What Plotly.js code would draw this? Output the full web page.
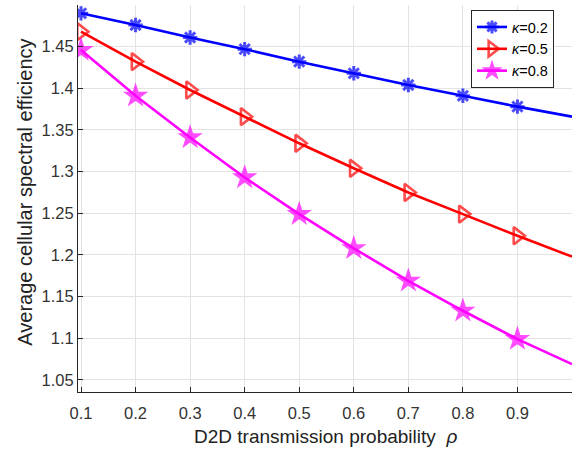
<!DOCTYPE html>
<html>
<head>
<meta charset="utf-8">
<script src="https://cdn.plot.ly/plotly-3.0.1.min.js"></script>
<style>html,body{margin:0;padding:0;background:#fff;}#chart{width:579px;height:449px;}</style>
</head>
<body>
<div id="chart"></div>
<script>
var rho = [0.1, 0.2, 0.3, 0.4, 0.5, 0.6, 0.7, 0.8, 0.9, 1.0];
var kappa02 = [1.490, 1.476, 1.461, 1.447, 1.432, 1.418, 1.404, 1.391, 1.378, 1.366];
var kappa05 = [1.468, 1.432, 1.398, 1.366, 1.334, 1.304, 1.275, 1.249, 1.223, 1.198];
var kappa08 = [1.446, 1.391, 1.341, 1.293, 1.249, 1.208, 1.169, 1.133, 1.099, 1.069];
var names = ['<i>κ</i>=0.2', '<i>κ</i>=0.5', '<i>κ</i>=0.8'];
var xTicks = [0.1, 0.2, 0.3, 0.4, 0.5, 0.6, 0.7, 0.8, 0.9];
var yTicks = [1.05, 1.1, 1.15, 1.2, 1.25, 1.3, 1.35, 1.4, 1.45];
var xTitle = 'D2D transmission probability  <i>ρ</i>';
var yTitle = 'Average cellular spectral efficiency';

function sizes(s, n){ var a = []; for (var i = 0; i < n; i++) a.push(i < n - 1 ? s : 0); return a; }

var traces = [
  {x: rho, y: kappa02, name: names[0], mode: 'lines+markers',
   line: {color: '#0000ff', width: 2.6},
   marker: {symbol: 'asterisk-open', size: sizes(12, rho.length), color: '#0000ff', line: {color: '#0000ff', width: 3}}},
  {x: rho, y: kappa05, name: names[1], mode: 'lines+markers',
   line: {color: '#ff0000', width: 2.6},
   marker: {symbol: 'triangle-right-open', size: sizes(15, rho.length), color: '#ff0000', line: {color: '#ff0000', width: 2.6}}},
  {x: rho, y: kappa08, name: names[2], mode: 'lines+markers',
   line: {color: '#ff00ff', width: 2.6},
   marker: {symbol: 'star', size: sizes(19, rho.length), color: '#ff00ff', line: {color: '#ff00ff', width: 0}}}
];

var layout = {
  width: 579, height: 449,
  margin: {l: 78, r: 7, t: 5, b: 57},
  paper_bgcolor: '#ffffff', plot_bgcolor: '#ffffff',
  font: {family: 'Liberation Sans, Arial, sans-serif', size: 16, color: '#262626'},
  showlegend: true,
  legend: {x: 0.9636, y: 0.987, xanchor: 'right', yanchor: 'top',
           bgcolor: '#ffffff', bordercolor: '#262626', borderwidth: 1,
           font: {size: 14.5, color: '#000'}, itemwidth: 30, tracegroupgap: 0},
  xaxis: {range: [0.0945, 1.0], tickvals: xTicks, ticktext: xTicks.map(String),
          showgrid: true, gridcolor: '#e3e3e3', gridwidth: 1,
          zeroline: false, showline: true, linecolor: '#262626', linewidth: 1,
          ticks: 'inside', ticklen: 5, tickcolor: '#262626', mirror: false,
          ticklabelstandoff: 6,
          tickfont: {size: 16.5, color: '#333'}, automargin: false},
  yaxis: {range: [1.0355, 1.5], tickvals: yTicks, ticktext: yTicks.map(String),
          showgrid: true, gridcolor: '#e3e3e3', gridwidth: 1,
          zeroline: false, showline: true, linecolor: '#262626', linewidth: 1,
          ticks: 'inside', ticklen: 5, tickcolor: '#262626', mirror: false,
          tickfont: {size: 16.5, color: '#333'}, automargin: false},
  annotations: [
    {text: xTitle, xref: 'paper', yref: 'paper', x: 0.5, y: -0.1137, xanchor: 'center', yanchor: 'middle',
     showarrow: false, font: {size: 19, color: '#222'}},
    {text: yTitle, xref: 'paper', yref: 'paper', x: -0.109, y: 0.5155, xanchor: 'center', yanchor: 'middle',
     textangle: -90, showarrow: false, font: {size: 20, color: '#222'}}
  ]
};

Plotly.newPlot('chart', traces, layout, {displayModeBar: false, staticPlot: true});
</script>
</body>
</html>
